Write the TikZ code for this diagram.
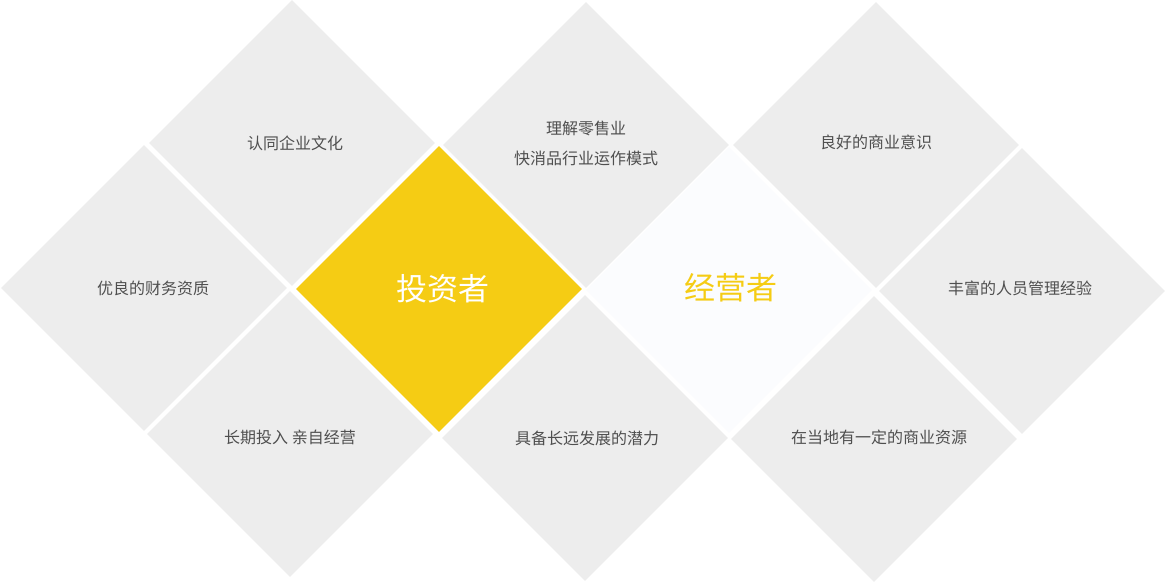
\documentclass[tikz,border=0pt]{standalone}
\usepackage{fontspec}
\setmainfont{Noto Sans CJK SC}
\usetikzlibrary{shapes.geometric}
\definecolor{tilegray}{HTML}{EDEDED}
\definecolor{tileyellow}{HTML}{F5CC14}
\definecolor{tilepale}{HTML}{FBFCFE}
\definecolor{txtgray}{HTML}{4F4F4F}
\tikzset{
  tile/.style={diamond, aspect=1, inner sep=0pt, minimum width=286pt, minimum height=286pt, fill=tilegray, draw=none},
  lbl/.style={font=\fontsize{16pt}{30pt}\selectfont, text=txtgray, align=center},
  big/.style={font=\fontsize{31pt}{36pt}\selectfont}
}
\begin{document}
\begin{tikzpicture}[x=1pt,y=-1pt]
\useasboundingbox (0,0) rectangle (1166,583);
\fill[white] (0,0) rectangle (1166,583);
% gray tiles
\node[tile] (t1) at (292,143) {};
\node[tile] (t2) at (144,288) {};
\node[tile] (t3) at (290,434) {};
\node[tile] (t4) at (586,145) {};
\node[tile] (t5) at (585,438) {};
\node[tile] (t6) at (876,145) {};
\node[tile] (t7) at (1022,291) {};
\node[tile] (t8) at (874,439) {};
% highlighted tiles
\node[tile, fill=tileyellow] (inv) at (439,289) {};
\node[tile, fill=tilepale] (op) at (729,290) {};
% labels
\node[lbl] at ([xshift=3pt]t1.center) {认同企业文化};
\node[lbl] at ([xshift=9pt]t2.center) {优良的财务资质};
\node[lbl] at ([yshift=-3pt]t3.center) {长期投入 亲自经营};
\node[lbl] at ([yshift=2pt]t4.center) {理解零售业\\快消品行业运作模式};
\node[lbl] at ([xshift=2pt]t5.center) {具备长远发展的潜力};
\node[lbl] at ([yshift=3pt]t6.center) {良好的商业意识};
\node[lbl] at ([xshift=-2pt,yshift=3pt]t7.center) {丰富的人员管理经验};
\node[lbl] at ([xshift=5pt,yshift=2pt]t8.center) {在当地有一定的商业资源};
\node[big, text=white] at ([xshift=4pt]inv.center) {投资者};
\node[big, text=tileyellow] at ([xshift=2pt,yshift=2pt]op.center) {经营者};
\end{tikzpicture}
\end{document}
